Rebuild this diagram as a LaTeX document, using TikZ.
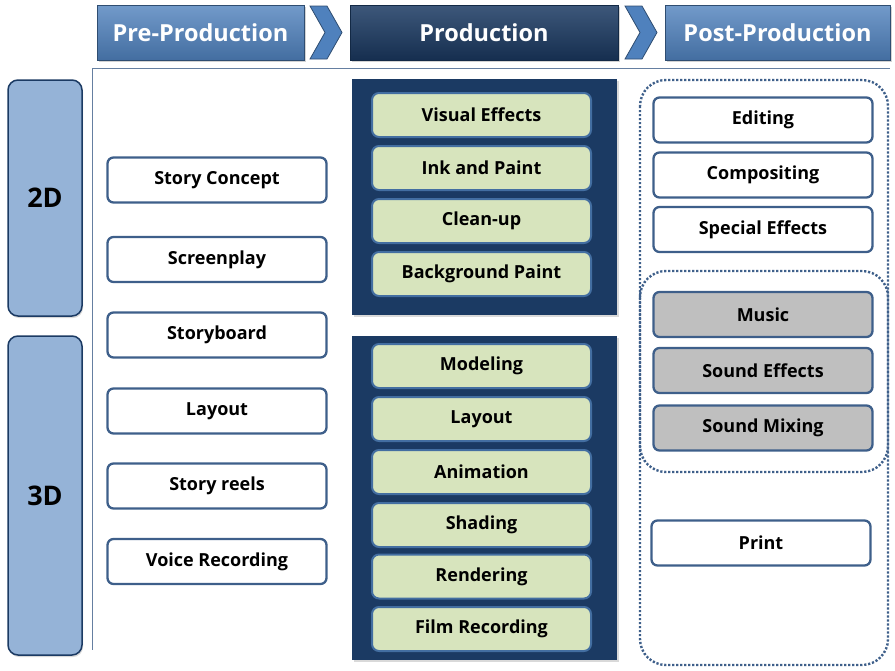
\documentclass[tikz,border=0pt]{standalone}
\usepackage{fontspec}
\setmainfont{Open Sans}
\usetikzlibrary{positioning,shadows,calc}
\definecolor{navy}{HTML}{1B3A63}
\definecolor{steel}{HTML}{4F81BD}
\definecolor{frame}{HTML}{3E5F8A}
\definecolor{pale}{HTML}{D7E4BD}
\definecolor{barblue}{HTML}{95B3D7}
\definecolor{mist}{HTML}{BFBFBF}
\tikzset{
  phase/.style={draw=steel!60!black,line width=1pt,minimum width=207pt,minimum height=55pt,
    text=white,font=\fontsize{23.5}{27}\selectfont\bfseries,
    drop shadow={opacity=0.35,shadow xshift=2pt,shadow yshift=-2pt}},
  chevron/.style={fill=steel,draw=steel!60!black,line width=0.8pt},
  bar/.style={draw=navy,line width=1.5pt,rounded corners=10pt,fill=barblue,minimum width=74pt,
    font=\fontsize{27}{30}\selectfont\bfseries,
    drop shadow={opacity=0.3,shadow xshift=1pt,shadow yshift=-2pt}},
  prebox/.style={draw=frame,line width=2.3pt,rounded corners=6pt,fill=white,minimum width=219pt,
    minimum height=45pt,font=\fontsize{18}{21}\selectfont\bfseries},
  panel/.style={fill=navy,minimum width=265pt,
    drop shadow={opacity=0.3,shadow xshift=2pt,shadow yshift=-2pt}},
  task/.style={draw=steel!85!black,line width=2pt,rounded corners=7pt,fill=pale,minimum width=219pt,
    minimum height=44pt,font=\fontsize{18}{21}\selectfont\bfseries},
  group/.style={draw=frame,line width=2.4pt,dash pattern=on 2.2pt off 1.8pt,rounded corners=26pt}
}
\begin{document}
\begin{tikzpicture}[x=1pt,y=-1pt]
  \useasboundingbox (0,0) rectangle (895,670);
  % phases
  \node[phase,top color=steel!80!white,bottom color=steel!85!black] (prephase) at (200.5,32.5) {Pre-Production};
  \node[phase,minimum width=268pt,top color=navy!85!white,bottom color=navy!80!black,draw=navy!70!black] (prodphase) at (484,32.5) {Production};
  \node[phase,minimum width=225pt,top color=steel!80!white,bottom color=steel!85!black] (postphase) at (777.5,32.5) {Post-Production};
  \foreach \x in {310,625}
    \filldraw[chevron] (\x,6) -- (\x+17,6) -- (\x+32,32.5) -- (\x+17,59) -- (\x,59) -- (\x+15,32.5) -- cycle;
  % axes
  \draw[frame!80,line width=0.8pt] (92,68) -- (890,68);
  \draw[frame!80,line width=0.8pt] (92,68) -- (92,650);
  % 2D / 3D
  \node[bar,minimum height=236pt] (twod) at (45,198) {2D};
  \node[bar,minimum height=319pt] (threed) at (45,495.5) {3D};
  % pre-production
  \foreach \lab/\y [count=\i] in {Story Concept/180,Screenplay/259.5,Storyboard/335,Layout/411,Story reels/486,Voice Recording/561.5}
    \node[prebox] (pre\i) at (217,\y) {\lab};
  % production
  \node[panel,minimum height=236pt] (twopanel) at (484.5,197) {};
  \node[panel,minimum height=324pt] (threepanel) at (484.5,498) {};
  \foreach \lab/\y [count=\i] in {Visual Effects/115,Ink and Paint/168,Clean-up/221,Background Paint/274}
    \node[task] (twotask\i) at (481.5,\y) {\lab};
  \foreach \lab/\y [count=\i] in {Modeling/366,Layout/419,Animation/472,Shading/525,Rendering/576.5,Film Recording/629}
    \node[task] (threetask\i) at (481.5,\y) {\lab};
  % post-production
  \draw[group] (640,80) rectangle (888,665);
  \draw[group] (640,271) rectangle (888,472);
  \foreach \lab/\y/\c [count=\i] in {Editing/120/white,Compositing/175/white,Special Effects/229.5/white,Music/314.5/mist,Sound Effects/370.5/mist,Sound Mixing/428/mist}
    \node[prebox,fill=\c] (post\i) at (763,\y) {\lab};
  \node[prebox] (print) at (761,543) {Print};
\end{tikzpicture}
\end{document}
